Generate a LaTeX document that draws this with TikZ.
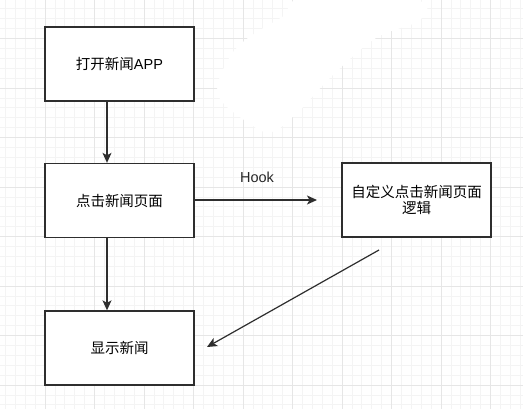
\documentclass[tikz,border=0pt]{standalone}
\usepackage{fontspec}
\setmainfont{Liberation Sans}
\newfontfamily\cjk{Noto Sans CJK SC}
\usetikzlibrary{arrows.meta}
\definecolor{minorgrid}{HTML}{F4F4F4}
\definecolor{majorgrid}{HTML}{E6E6E6}
\definecolor{edge}{HTML}{2E2E2E}
\tikzset{
  box/.style={draw=edge, line width=1.3pt, fill=white, minimum width=149pt, minimum height=74pt, inner sep=0pt, font=\fontsize{14.5}{17}\selectfont, align=center, text=black},
  conn/.style={draw=edge, line width=1.2pt, -{Stealth[length=10pt,width=9pt,inset=2.5pt]}},
  lbl/.style={font=\fontsize{14.5}{17}\selectfont, text=black!85, inner sep=0pt}
}
\begin{document}
\begin{tikzpicture}[x=1pt,y=-1pt]
\useasboundingbox (0,0) rectangle (523,409);
\fill[white] (0,0) rectangle (523,409);
% grid
\foreach \i in {0,...,52} {
  \pgfmathsetmacro\xx{5.4+\i*9.9}
  \draw[minorgrid, line width=0.7pt] (\xx,0) -- (\xx,409);
}
\foreach \i in {0,...,41} {
  \pgfmathsetmacro\yy{8.8+\i*9.9}
  \draw[minorgrid, line width=0.7pt] (0,\yy) -- (523,\yy);
}
\foreach \i in {0,...,10} {
  \pgfmathsetmacro\xx{45.0+(\i-1)*49.5}
  \draw[majorgrid, line width=0.8pt] (\xx,0) -- (\xx,409);
}
\foreach \i in {0,...,8} {
  \pgfmathsetmacro\yy{385-\i*49.5}
  \draw[majorgrid, line width=0.8pt] (0,\yy) -- (523,\yy);
}
% erased watermark area
\fill[white] plot[smooth cycle, tension=0.6] coordinates {(300,0) (415,0) (420,20) (376,38) (333,75) (298,112) (272,132) (250,124) (218,95) (228,60) (248,38) (285,15)};
% nodes
\node[box] (open) at (119.5,64) {{\cjk 打开新闻}APP};
\node[box] (click) at (119.5,200.5) {{\cjk 点击新闻页面}};
\node[box] (show) at (119.5,348) {{\cjk 显示新闻}};
\node[box] (custom) at (416.5,200) {{\cjk 自定义点击新闻页面}\\[-1pt]{\cjk 逻辑}};
\coordinate (hookend) at (317,200);
\coordinate (dstart) at (379,250);
\coordinate (dend) at (207,347);
\coordinate (vx) at (107,0);
% connectors
\draw[conn] (vx |- open.south) -- (vx |- click.north);
\draw[conn] (vx |- click.south) -- (vx |- show.north);
\draw[conn] (click.east |- hookend) -- (hookend);
\node[lbl] (hooklbl) at (257,177) {Hook};
\draw[conn] (dstart) -- (dend);
\end{tikzpicture}
\end{document}
